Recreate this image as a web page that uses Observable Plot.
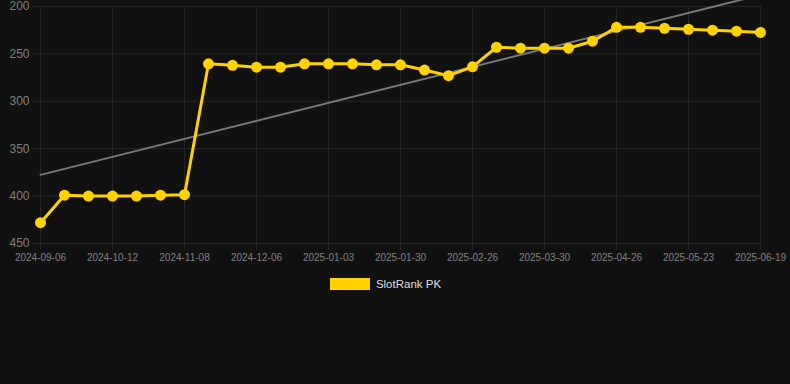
<!DOCTYPE html>
<html>
<head>
<meta charset="utf-8">
<script src="https://cdn.jsdelivr.net/npm/d3@7"></script>
<script src="https://cdn.jsdelivr.net/npm/@observablehq/plot@0.6"></script>
<style>
  html, body { margin: 0; padding: 0; background: #111111; }
  body { width: 790px; height: 384px; overflow: hidden; font-family: "Liberation Sans", Arial, sans-serif; }
  #legend { display: flex; align-items: center; justify-content: center; margin-top: 12px; height: 14px; padding-right: 19px; }
  #legend .sw { width: 40px; height: 12px; background: #FFD200; margin-right: 6px; }
  #legend .lb { color: #dddddd; font-size: 11.5px; }
</style>
</head>
<body>
<div id="chart"></div>
<div id="legend"><span class="sw"></span><span class="lb">SlotRank PK</span></div>
<script>
// Rank values (lower is better), one per observation
const seriesName = "SlotRank PK";
const rankValues = [
  428, 399, 400, 400, 400, 399, 398.5,
  260.5, 262, 264, 264, 260.5, 260.5, 260.5, 261.5, 261.5, 267, 273, 263.6,
  243, 244, 244, 244, 236.6, 222, 222, 223, 224, 225, 226, 227.4
];
// Labels shown on every third observation
const tickLabels = [
  "2024-09-06", "2024-10-12", "2024-11-08", "2024-12-06", "2025-01-03",
  "2025-01-30", "2025-02-26", "2025-03-30", "2025-04-26", "2025-05-23", "2025-06-19"
];
const yTicks = [200, 250, 300, 350, 400, 450];

const data = rankValues.map((v, i) => ({i, v}));
const tickIdx = tickLabels.map((_, k) => k * 3);

const gridColor = "#252525";
const chart = Plot.plot({
  width: 790,
  height: 265,
  marginTop: 6,
  marginBottom: 22,
  marginLeft: 40,
  marginRight: 30,
  style: {background: "#111111", color: "#808080", fontFamily: "'Liberation Sans', Arial, sans-serif", overflow: "visible"},
  x: {type: "linear", domain: [0, rankValues.length - 1]},
  y: {domain: [200, 450], reverse: true},
  marks: [
    Plot.gridX(tickIdx, {stroke: gridColor, strokeOpacity: 1, y1: 200, y2: 450}),
    Plot.gridY(yTicks, {stroke: gridColor, strokeOpacity: 1}),
    Plot.axisX(tickIdx, {tickSize: 7, tickPadding: 3, stroke: gridColor, tickFormat: (d) => tickLabels[d / 3], fontSize: 10, fill: "#808080", label: null}),
    Plot.axisY(yTicks, {tickSize: 8, tickPadding: 3, stroke: gridColor, fontSize: 12, fill: "#808080", label: null}),
    Plot.linearRegressionY(data, {x: "i", y: "v", ci: 0, stroke: "#777777", strokeWidth: 2}),
    Plot.line(data, {x: "i", y: "v", stroke: "#FFD200", strokeWidth: 3}),
    Plot.dot(data, {x: "i", y: "v", r: 5.5, fill: "#FFD200", stroke: "none"})
  ]
});
document.getElementById("chart").appendChild(chart);
</script>
</body>
</html>
